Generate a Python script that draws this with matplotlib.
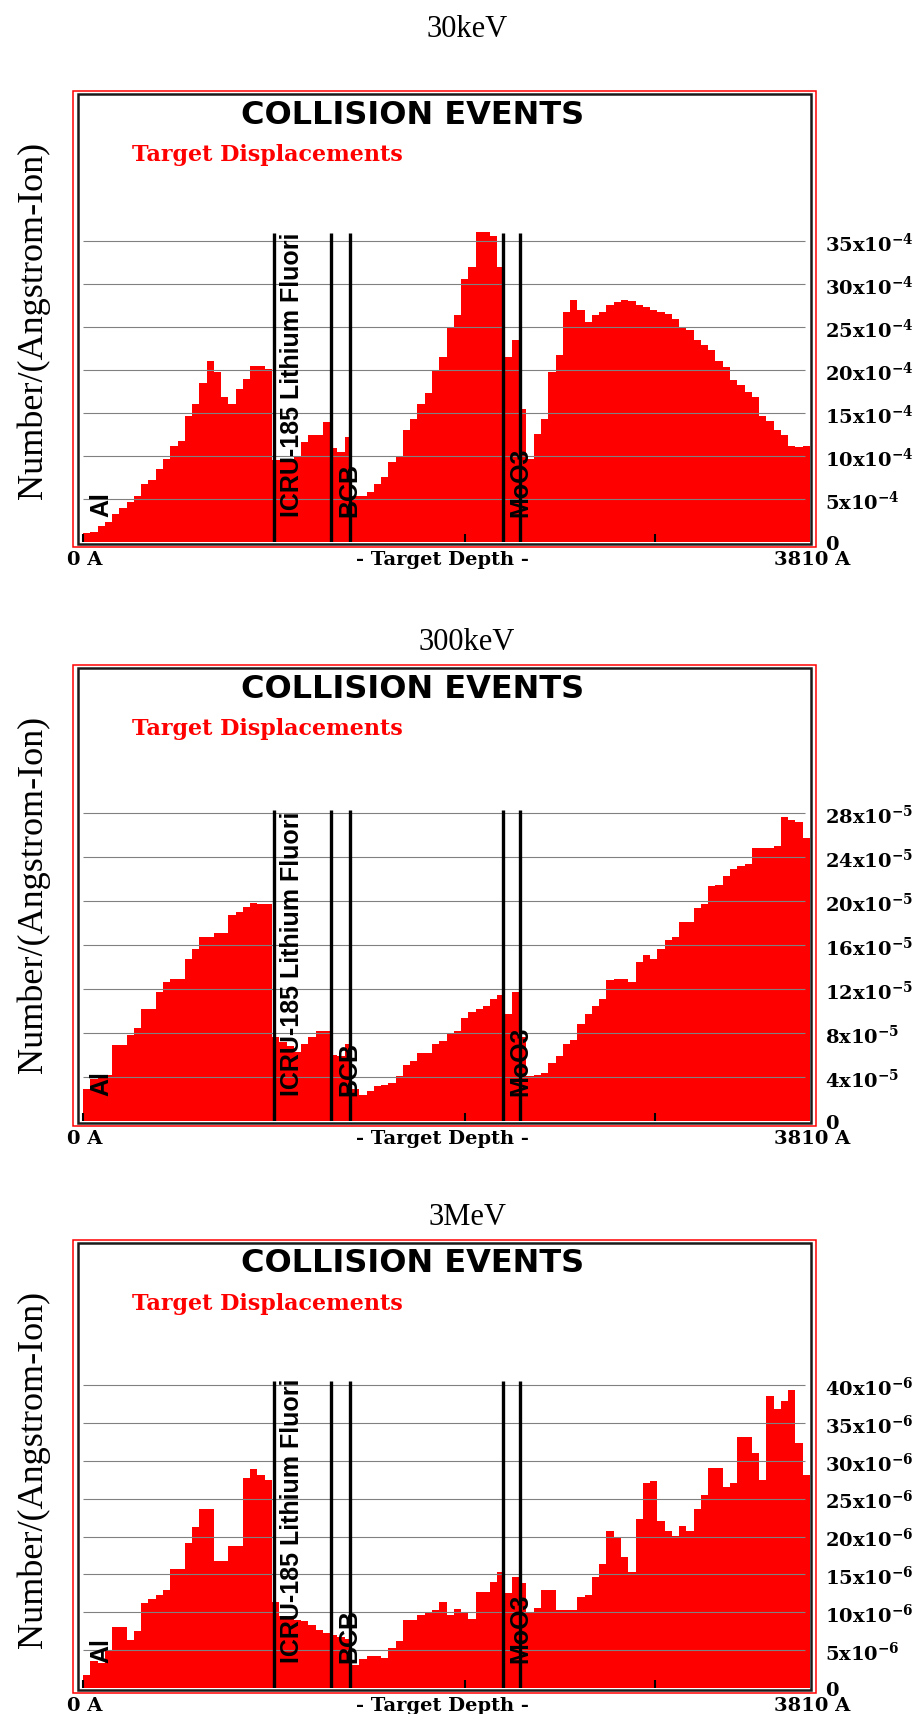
import numpy as np
import matplotlib
matplotlib.use('Agg')
from matplotlib import pyplot as plt
from matplotlib.patches import Rectangle

plt.rcParams['mathtext.fontset'] = 'custom'
plt.rcParams['mathtext.rm'] = 'DejaVu Serif:bold'
plt.rcParams['mathtext.it'] = 'DejaVu Serif:bold'
plt.rcParams['mathtext.bf'] = 'DejaVu Serif:bold'

W, H = 924, 1715

# depth axis (Angstrom), 100 bins
depth_max = 3810
depth_ticks = [0, 1000, 2000, 3000]

# layer boundaries and layer names
layer_bounds = [1000, 1300, 1400, 2200, 2290]
layer_names = ['Al', 'ICRU-185 Lithium Fluori', 'BCB', 'MoO3']
layer_starts = [0, 1000, 1300, 2200]

energies = ['30keV', '300keV', '3MeV']

# target displacements per bin, in units of the tick exponent
disp_30kev = [1.1, 1.2, 1.9, 2.3, 3.2, 4.0, 4.7, 5.4, 6.8, 7.2,
              8.5, 9.6, 11.2, 11.8, 14.7, 16.0, 18.5, 21.0, 19.8, 16.9,
              16.1, 17.8, 19.0, 20.5, 20.5, 20.1, 9.5, 9.5, 9.7, 9.9,
              11.6, 12.4, 12.4, 14.0, 10.9, 10.5, 12.2, 5.4, 5.4, 5.8,
              6.8, 7.6, 9.3, 9.9, 13.0, 14.3, 16.1, 17.3, 20.0, 21.5,
              25.0, 26.4, 30.6, 32.0, 36.0, 36.0, 35.6, 32.0, 21.5, 23.5,
              15.5, 9.7, 12.6, 14.3, 19.8, 21.7, 26.7, 28.1, 27.0, 25.6,
              26.4, 26.7, 27.6, 27.9, 28.1, 28.0, 27.6, 27.3, 27.0, 26.7,
              26.5, 25.9, 25.0, 24.6, 23.5, 22.9, 22.3, 21.1, 20.3, 18.8,
              18.2, 17.4, 16.9, 14.7, 14.1, 13.0, 12.4, 11.2, 11.0, 11.2]

disp_300kev = [2.9, 3.8, 4.2, 4.2, 6.9, 6.9, 7.8, 8.5, 10.2, 10.2,
               11.7, 12.6, 12.9, 12.9, 14.7, 15.6, 16.7, 16.7, 17.1, 17.1,
               18.7, 19.0, 19.5, 19.8, 19.7, 19.7, 7.6, 7.2, 6.8, 6.3,
               7.0, 7.6, 8.2, 8.2, 6.0, 5.9, 7.0, 2.9, 2.4, 2.7,
               3.2, 3.3, 3.5, 4.1, 5.1, 5.5, 6.2, 6.2, 7.0, 7.3,
               8.0, 8.2, 9.4, 9.9, 10.2, 10.5, 11.1, 11.5, 9.7, 11.7,
               7.6, 4.1, 4.2, 4.4, 5.3, 5.9, 7.0, 7.4, 8.8, 9.7,
               10.5, 11.1, 12.8, 12.9, 12.9, 12.6, 14.5, 15.1, 14.7, 15.6,
               16.5, 16.7, 18.1, 18.1, 19.4, 19.7, 21.4, 21.5, 22.3, 22.9,
               23.2, 23.4, 24.8, 24.8, 24.8, 25.0, 27.6, 27.4, 27.2, 25.7]

disp_3mev = [1.7, 3.6, 3.3, 5.0, 8.1, 8.1, 6.3, 7.5, 11.2, 11.8,
             12.3, 13.0, 15.7, 15.7, 19.1, 21.2, 23.6, 23.6, 16.8, 16.8,
             18.8, 18.8, 27.7, 28.9, 28.1, 27.5, 11.4, 9.5, 9.2, 9.0,
             8.8, 8.3, 7.7, 7.3, 7.0, 6.7, 6.5, 3.1, 3.8, 4.2,
             4.2, 4.0, 5.3, 6.2, 9.0, 9.0, 9.7, 9.9, 10.3, 11.4,
             9.7, 10.4, 9.9, 9.1, 12.7, 12.7, 14.0, 15.3, 12.5, 14.6,
             13.8, 9.9, 10.5, 12.9, 12.9, 10.3, 10.3, 10.3, 12.0, 12.3,
             14.7, 16.4, 20.7, 19.9, 17.3, 15.3, 22.3, 27.0, 27.3, 22.0,
             20.7, 20.1, 21.4, 20.7, 23.6, 25.5, 29.1, 29.1, 26.6, 27.0,
             33.1, 33.1, 31.0, 27.5, 38.6, 36.8, 37.9, 39.3, 32.3, 28.1]

ticks_30kev = [0, 5, 10, 15, 20, 25, 30, 35]
ticks_300kev = [0, 4, 8, 12, 16, 20, 24, 28]
ticks_3mev = [0, 5, 10, 15, 20, 25, 30, 35, 40]
exponents = [-4, -5, -6]

all_disp = [disp_30kev, disp_300kev, disp_3mev]
all_ticks = [ticks_30kev, ticks_300kev, ticks_3mev]

# panel layout in pixels
frame_top = [92, 666, 1241]
base_y = [543, 1122, 1689]
grid_top_y = [242, 814, 1386]
line_top_y = [234, 811, 1382]
title_base = [37, 650, 1225]
plot_l, plot_r = 83, 810

fig = plt.figure(figsize=(W / 100, H / 100), dpi=100, facecolor='white')


def frame(x0, y0, x1, y1, color, lw):
    fig.add_artist(Rectangle((x0 / W, 1 - y1 / H), (x1 - x0) / W, (y1 - y0) / H,
                             transform=fig.transFigure, fill=False, ec=color, lw=lw))


def ftext(x, y, s, **kw):
    fig.text(x / W, 1 - y / H, s, **kw)


bold_serif = dict(family='DejaVu Serif', fontweight='bold')

for k in range(3):
    vals = all_disp[k]
    ticks = all_ticks[k]
    top = frame_top[k]
    base = base_y[k]

    frame(73, top, 816, base + 5, 'red', 1.1)
    frame(78, top + 3, 811, base + 2, '#1a1a1a', 1.8)

    ax = fig.add_axes([plot_l / W, 1 - base / H, (plot_r - plot_l) / W, (base - top - 3) / H])
    scale = ticks[-1] / (base - grid_top_y[k])
    ax.set_xlim(0, depth_max)
    ax.set_ylim(0, (base - top - 3) * scale)
    ax.patch.set_visible(False)
    for s in ax.spines.values():
        s.set_visible(False)

    edges = np.linspace(0, depth_max, len(vals) + 1)
    ax.stairs(vals, edges, fill=True, color='#ff0000', zorder=1)
    ax.hlines(ticks[1:], 0, depth_max * 0.993, color='#808080', lw=0.8, zorder=2)
    ax.vlines(layer_bounds, 0, (base - line_top_y[k]) * scale, color='black', lw=2.4, zorder=3)

    for name, x0 in zip(layer_names, layer_starts):
        ax.annotate(name, xy=(x0, 0), xytext=(13, 19), textcoords='offset points',
                    rotation=90, ha='center', va='bottom', fontsize=18, fontweight='bold',
                    family='Liberation Sans', zorder=4)

    ax.set_xticks(depth_ticks)
    ax.tick_params(axis='x', direction='in', length=6, width=1.5, color='black',
                   labelbottom=False)

    e = exponents[k]
    labels = ['0'] + ['$%dx10^{%d}$' % (t, e) for t in ticks[1:]]
    ax.yaxis.tick_right()
    ax.set_yticks(ticks, labels)
    ax.tick_params(axis='y', length=0, pad=11, labelsize=14)
    for lab in ax.get_yticklabels():
        lab.set_family('DejaVu Serif')
        lab.set_fontweight('bold')

    ftext(467, title_base[k], energies[k], ha='center', va='baseline',
          family='Liberation Serif', fontsize=22)
    ftext(413, top + 23, 'COLLISION EVENTS', ha='center', va='center',
          family='DejaVu Sans', fontweight='heavy', fontsize=23)
    ftext(132, top + 63, 'Target Displacements', ha='left', va='center',
          color='red', fontsize=16, **bold_serif)
    ftext(33, top + 228, 'Number/(Angstrom-Ion)', ha='center', va='center',
          rotation=90, family='Liberation Serif', fontsize=26)
    ftext(67, base + 17, '0 A', ha='left', va='center', fontsize=14, **bold_serif)
    ftext(442, base + 17, '- Target Depth -', ha='center', va='center', fontsize=14, **bold_serif)
    ftext(850, base + 17, '3810 A', ha='right', va='center', fontsize=14, **bold_serif)

fig.savefig('out.png', dpi=100)
